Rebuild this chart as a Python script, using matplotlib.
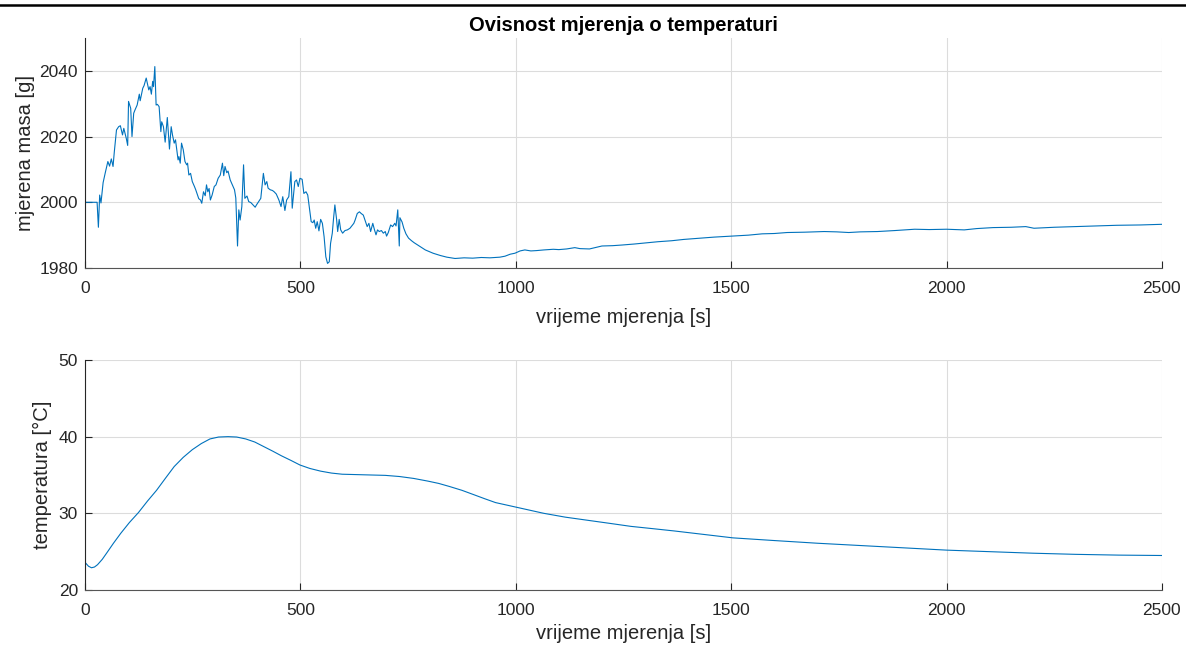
import numpy as np
import matplotlib
matplotlib.use('Agg')
import matplotlib.pyplot as plt
from matplotlib.lines import Line2D

plt.rcParams['font.family'] = ['Liberation Sans', 'DejaVu Sans']

# measured mass [g] vs time [s]
t_mass = [0, 10, 20, 28, 31, 34, 37, 42, 47, 53, 57, 61, 65, 68, 73, 78, 82, 87, 90, 96,
          99, 101, 106, 109, 113, 116, 121, 126, 128, 134, 137, 142, 148, 151, 154, 157, 159, 162, 165, 168,
          172, 176, 178, 182, 186, 191, 196, 200, 203, 207, 210, 216, 218, 221, 224, 228, 232, 236, 238, 241,
          245, 249, 254, 257, 261, 264, 268, 271, 275, 279, 282, 285, 288, 291, 295, 300, 304, 309, 314, 319,
          322, 325, 329, 332, 337, 342, 347, 350, 354, 357, 360, 364, 368, 371, 376, 380, 385, 390, 395, 398,
          403, 408, 414, 418, 422, 425, 430, 435, 439, 444, 450, 455, 459, 464, 468, 473, 478, 481, 487, 491,
          495, 499, 504, 508, 513, 517, 521, 525, 529, 532, 535.5, 539, 543, 547, 551, 555, 559, 563, 567, 570,
          574, 577, 580, 584, 586.5, 590, 593.5, 598, 603.5, 609, 615, 621, 624, 627, 632, 637, 641, 646, 651, 655,
          659, 663, 668, 672, 675.5, 679, 683, 688, 692.5, 697, 700, 704, 709.5, 714, 719, 722, 726, 729.5, 731, 736,
          740, 745, 751, 758, 764, 778, 790, 808, 825, 840, 859, 880, 900, 920, 940, 963, 975, 987, 998, 1010,
          1021, 1035, 1048, 1065, 1087, 1100, 1118, 1137, 1149, 1171, 1200, 1225, 1247, 1275, 1305, 1330, 1362, 1390, 1419, 1460,
          1500, 1540, 1572, 1600, 1630, 1670, 1716, 1745, 1773, 1800, 1840, 1880, 1926, 1960, 2000, 2041, 2070, 2108, 2150, 2184,
          2203, 2250, 2299, 2350, 2395, 2450, 2500]
mass = [2000, 2000, 2000, 2000, 1992.4, 2002.2, 1999.8, 2006, 2009, 2012.4, 2011, 2013.2, 2010.9, 2015.4, 2022, 2023, 2023.3, 2020.5, 2022.5, 2019.3,
        2017.3, 2030.7, 2028.6, 2020, 2027.1, 2028.1, 2029.6, 2032.9, 2030.9, 2034.7, 2035.5, 2037.8, 2034.2, 2035.2, 2032.9, 2036.8, 2035.2, 2041.3, 2029.6, 2029.8,
        2029.1, 2021.5, 2024.5, 2023, 2018.3, 2025.8, 2016.2, 2023, 2020.5, 2018, 2019, 2012.9, 2013.9, 2011.9, 2018, 2016, 2012.4, 2011.4, 2011.9, 2008.3,
        2008.8, 2006.3, 2004.8, 2003.8, 2002.2, 2001.1, 2000.7, 1999.7, 2003.2, 2002, 2005.3, 2003.2, 2004.2, 2000.7, 2002.2, 2004.8, 2005.3, 2007.3, 2008.3, 2011.9,
        2008.1, 2010.9, 2009, 2009.5, 2006.8, 2005.3, 2003.8, 2001.3, 1986.7, 1997.7, 1994.6, 1998.7, 2011.4, 2001.2, 2001.9, 2000.2, 1999.9, 1999.2, 1998.5, 1999.2,
        2000.2, 2001.2, 2008.8, 2005.3, 2006.3, 2004.3, 2003.8, 2003.6, 2003.2, 2002.5, 2000.7, 1998.7, 2001.7, 1997.5, 2000.7, 2001.7, 2009.3, 1998.2, 2006.3, 2006.8,
        2004.8, 2007.3, 2007, 2002.7, 2003.2, 2002.2, 1998.2, 1994.1, 1993.8, 1994.6, 1992.1, 1994.1, 1991.3, 1994.8, 1993.6, 1989.5, 1983.4, 1981.4, 1981.9, 1987.5,
        1990.6, 1995.2, 1999.2, 1994.8, 1991.1, 1994.8, 1991.6, 1990.6, 1991.4, 1991.6, 1992.1, 1993.1, 1993.6, 1994.6, 1996.6, 1997.1, 1996.6, 1996.1, 1994.1, 1992.6,
        1993.6, 1991.1, 1993.6, 1991.6, 1990.1, 1991.6, 1991.1, 1991.4, 1990.6, 1991.1, 1989.7, 1990.8, 1993.1, 1992.6, 1993.6, 1992.8, 1997.7, 1986.7, 1995.3, 1994,
        1992.1, 1990.4, 1989.1, 1988.3, 1987.7, 1986.5, 1985.5, 1984.5, 1983.8, 1983.3, 1982.9, 1983.1, 1983.0, 1983.2, 1983.1, 1983.3, 1983.6, 1984.2, 1984.5, 1985.2,
        1985.5, 1985.2, 1985.3, 1985.5, 1985.7, 1985.6, 1985.8, 1986.2, 1985.9, 1985.8, 1986.7, 1986.8, 1987.0, 1987.3, 1987.7, 1988.0, 1988.3, 1988.7, 1989.0, 1989.4,
        1989.7, 1990.0, 1990.4, 1990.5, 1990.8, 1990.9, 1991.1, 1991.0, 1990.8, 1991.0, 1991.1, 1991.4, 1991.8, 1991.7, 1991.8, 1991.6, 1992.0, 1992.3, 1992.4, 1992.6,
        1992.1, 1992.4, 1992.6, 1992.8, 1993.0, 1993.1, 1993.3]

# temperature [degC] vs time [s]
t_temp = [0, 8, 15, 22, 29, 40, 50, 66, 83, 103, 124, 145, 166, 187, 207, 228, 249, 270, 290, 310,
          332, 352, 373, 394, 415, 436, 456, 478, 499, 522, 547, 572, 597, 630, 663, 697, 730, 763, 796, 821,
          846, 875, 904, 928, 953, 977, 1001, 1033, 1065, 1115, 1166, 1217, 1267, 1318, 1368, 1436, 1504, 1600, 1700, 1800,
          1900, 2000, 2100, 2200, 2300, 2400, 2500]
temp = [23.6, 23.1, 22.9, 23.0, 23.3, 24.0, 24.8, 26.1, 27.4, 28.8, 30.1, 31.6, 33.0, 34.6, 36.1, 37.3, 38.3, 39.1, 39.7, 39.95,
        40.0, 39.95, 39.7, 39.3, 38.7, 38.1, 37.5, 36.9, 36.3, 35.85, 35.5, 35.25, 35.1, 35.05, 35.0, 34.95, 34.8, 34.55, 34.2, 33.9,
        33.5, 33.0, 32.4, 31.9, 31.4, 31.1, 30.8, 30.4, 30.0, 29.5, 29.1, 28.7, 28.3, 28.0, 27.7, 27.25, 26.8, 26.45, 26.1, 25.8,
        25.5, 25.2, 25.0, 24.8, 24.65, 24.55, 24.5]

blue = '#0072BD'
dark = '#262626'

fig = plt.figure(figsize=(11.86, 6.48), dpi=100)
ax1 = fig.add_axes([0.0717, 0.5864, 0.908, 0.355])
ax2 = fig.add_axes([0.0717, 0.0895, 0.908, 0.355])

# thin black rule across the top of the page
fig.add_artist(Line2D([0, 1], [0.992, 0.992], color='black', linewidth=1.8, transform=fig.transFigure))

ax1.plot(t_mass, mass, color=blue, linewidth=0.8)
ax1.set_xlim(0, 2500)
ax1.set_ylim(1980, 2050)
ax1.set_yticks([1980, 2000, 2020, 2040])
ax1.set_xticks([0, 500, 1000, 1500, 2000, 2500])
ax1.set_xlabel('vrijeme mjerenja [s]', fontsize=14.5, color=dark, labelpad=9)
ax1.set_ylabel('mjerena masa [g]', fontsize=14.5, color=dark, labelpad=3)
ax1.set_title('Ovisnost mjerenja o temperaturi', fontsize=14.5, fontweight='bold', pad=5)

ax2.plot(t_temp, temp, color=blue, linewidth=0.8)
ax2.set_xlim(0, 2500)
ax2.set_ylim(20, 50)
ax2.set_yticks([20, 30, 40, 50])
ax2.set_xticks([0, 500, 1000, 1500, 2000, 2500])
ax2.set_xlabel('vrijeme mjerenja [s]', fontsize=14.5, color=dark, labelpad=4.5)
ax2.set_ylabel('temperatura [°C]', fontsize=14.5, color=dark, labelpad=5)

for ax in (ax1, ax2):
    ax.grid(True, color='#dcdcdc', linewidth=0.8)
    ax.set_axisbelow(True)
    ax.spines['top'].set_visible(False)
    ax.spines['right'].set_visible(False)
    ax.spines['left'].set_color(dark)
    ax.spines['bottom'].set_color('#555555')
    ax.tick_params(direction='in', length=5, labelsize=12.5, colors=dark)
    ax.tick_params(axis='x', pad=9)
    ax.tick_params(axis='y', pad=5)

fig.savefig('out.png', dpi=100)
